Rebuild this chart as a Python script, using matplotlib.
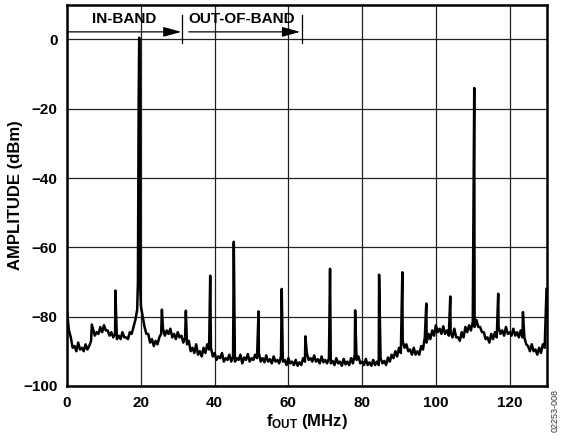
import numpy as np
import matplotlib
matplotlib.use("Agg")
import matplotlib.pyplot as plt

plt.rcParams['font.family'] = ['Liberation Sans', 'DejaVu Sans']
plt.rcParams['font.weight'] = 'bold'
plt.rcParams['mathtext.fontset'] = 'custom'
plt.rcParams['mathtext.rm'] = 'Liberation Sans:bold'
plt.rcParams['mathtext.bf'] = 'Liberation Sans:bold'

# noise floor, 1 MHz steps from 0 to 130 MHz (upper side of the band)
floor_f = np.arange(0, 131)
floor_db = [
    -79, -86, -88.5, -87.5, -89, -88, -88.5, -83.5, -84.5, -83,
    -82.5, -84, -84.5, -85, -85.5, -84.5, -86, -84.5, -83, -78,
    -77, -83, -85, -86.5, -87, -86, -83.5, -84, -83.5, -85,
    -84.5, -85.5, -86, -87, -89, -88, -90, -89, -88, -89,
    -90.5, -91.5, -90.5, -92, -91, -91.5, -92, -91, -91.8, -90.8,
    -92, -91, -90.5, -92, -91.2, -92.3, -91.5, -92.5, -91.5, -92.5,
    -92, -93, -92.5, -93.2, -92, -90.5, -92, -91.2, -92.3, -91.5,
    -92.5, -92, -92.8, -92, -93, -92.2, -93, -92, -91, -91.5,
    -93, -92.2, -93.2, -92.5, -93, -92, -92.8, -91.8, -91, -90,
    -89, -87, -88, -89.5, -89, -90, -88.5, -86, -85, -84,
    -82.5, -83.5, -82.8, -84, -84.5, -83.5, -86, -84.5, -83, -82.5,
    -81.5, -81, -83, -84.5, -86, -85, -84.5, -83, -84, -83,
    -84.5, -83.5, -84.5, -84, -86, -88.5, -88, -89.5, -89, -88,
    -72,
]

# noise floor lower side, read at the half-MHz points 0.5 .. 129.5
mid_f = np.arange(0.5, 130, 1.0)
mid_db = [
    -84, -89, -90, -89.5, -90, -89.5, -87, -85.5, -85, -84.5,
    -84, -85.5, -86, -86.5, -86.5, -86, -86.5, -85, -81, np.nan,
    -80, -85, -87.5, -88.5, -88, -85, -85.5, -85, -86, -86.5,
    -86, -87.5, -88, -90, -90.5, -91, -91.5, -90.5, -89.5, -91.5,
    -92.5, -92, -93, -92.5, -93, -93, -92.5, -93.5, -92.5, -93,
    -92.5, -92, -93, -93.2, -93, -93.5, -93, -93.5, -93, -94,
    -93.5, -94, -94.2, -94, -93, -92.5, -93, -93, -93.5, -93.2,
    -93.5, -93.5, -94, -93.5, -94.2, -93.8, -94, -93.5, -92.5, -93.5,
    -94, -94, -94.2, -94, -94, -93.5, -94, -93, -92, -91.5,
    -90.5, -89, -90, -91, -91, -91, -89.5, -87.5, -86.5, -85.5,
    -84.5, -85, -85, -85.5, -86, -86, -87, -86, -84.5, -84,
    -83, -83, -84.5, -86.5, -87.5, -86.5, -86, -85, -85.5, -85,
    -85.5, -85.5, -86, -86, -88, -90, -90, -91, -90.5, -89,
]

# fundamental tone (shape around the peak)
tone_f = [19.2, 19.4, 19.55, 19.7, 19.85]
tone_db = [-70, -18, 0.5, -15, -72]

# spurs
spur_f = [6.7, 13.1, 25.7, 32.2, 38.8, 45.2, 51.9, 58.2, 64.6, 71.3,
          78.1, 84.6, 90.9, 97.4, 103.9, 110.4, 116.9, 123.6]
spur_db = [-82.3, -72.5, -78, -78.3, -68.2, -58.4, -78.5, -72, -85.7, -66.2,
           -78.2, -67.9, -67.2, -76.2, -74.2, -14, -73.4, -78.7]

band_edges = [31.2, 63.7]

f_all = np.concatenate([floor_f, mid_f, tone_f, spur_f])
db_all = np.concatenate([floor_db, mid_db, tone_db, spur_db])
keep = ~np.isnan(db_all)
f_all, db_all = f_all[keep], db_all[keep]
order = np.argsort(f_all, kind='stable')

fig = plt.figure(figsize=(5.64, 4.41), dpi=100)
ax = fig.add_axes([0.119, 0.125, 0.850, 0.864])

ax.plot(f_all[order], db_all[order], color='black', lw=1.8, zorder=3)

ax.set_xlim(0, 130)
ax.set_ylim(-100, 10)
ax.set_xticks(range(0, 121, 20))
ax.set_yticks(range(-100, 1, 20))
ax.grid(True, color='#222222', lw=0.9)
ax.tick_params(length=0, pad=7, labelsize=11)
for lab in ax.get_xticklabels() + ax.get_yticklabels():
    lab.set_fontweight('bold')
for s in ax.spines.values():
    s.set_linewidth(1.8)

ax.set_ylabel('AMPLITUDE (dBm)', fontsize=12, fontweight='bold', labelpad=0)
ax.set_xlabel(r'$\mathbf{f_{OUT}}$ (MHz)', fontsize=12, fontweight='bold', labelpad=2)

# band arrows
arrow_y = 2.2
aprops = dict(arrowstyle='-|>,head_length=1.1,head_width=0.3', mutation_scale=10,
              color='black', lw=0.9, shrinkA=0, shrinkB=0)
ax.annotate('', xy=(band_edges[0] - 0.2, arrow_y), xytext=(0, arrow_y), arrowprops=aprops)
ax.annotate('', xy=(band_edges[1] - 0.5, arrow_y), xytext=(33, arrow_y), arrowprops=aprops)
for e in band_edges:
    ax.plot([e, e], [-1, 7], color='black', lw=0.9, clip_on=False)
ax.text(15.5, 5.9, 'IN-BAND', ha='center', va='center', fontsize=11, fontweight='bold')
ax.text(47.3, 5.9, 'OUT-OF-BAND', ha='center', va='center', fontsize=11, fontweight='bold')

fig.text(0.993, 0.07, '02253-008', rotation=90, ha='right', va='center',
         fontsize=6.5, fontweight='normal', color='#333333')

fig.savefig('out.png', dpi=100)
